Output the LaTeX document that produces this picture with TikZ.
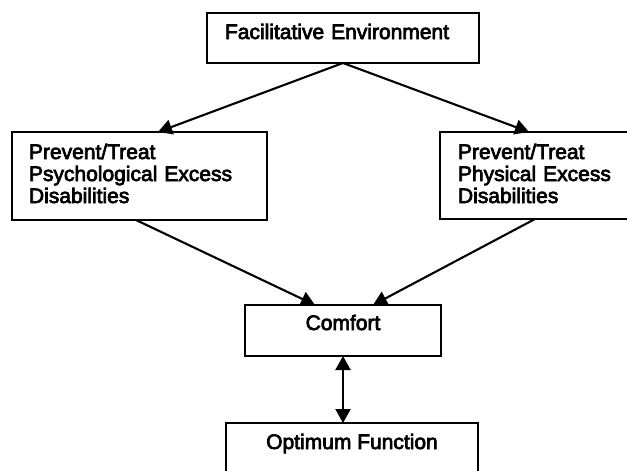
\documentclass[tikz,border=0pt]{standalone}
\usepackage{fontspec}
\setmainfont{Liberation Sans}
\newcommand{\heavytext}[1]{\special{pdf:literal 2 Tr 0.7 w}#1\special{pdf:literal 0 Tr}}
\usetikzlibrary{arrows.meta}
\begin{document}
\begin{tikzpicture}[x=1pt,y=-1pt,line width=2.3pt,
  box/.style={draw, rectangle, anchor=north west, outer sep=0pt,
    font=\fontsize{21}{22}\selectfont, inner ysep=0pt, align=left},
  arr/.style={-{Triangle[length=14pt,width=15pt]}, line width=2.1pt}]
\clip (0,0) rectangle (627,471);
\node[box, text width=236pt, inner xsep=18pt, text height=26pt, text depth=24pt] (env) at (207,13) {\heavytext{Facilitative Environment}};
\node[box, text width=221pt, inner xsep=17pt, text height=27pt, text depth=61pt] (psy) at (12,132) {\heavytext{Prevent/Treat}\\\heavytext{Psychological Excess}\\\heavytext{Disabilities}};
\node[box, text width=164pt, inner xsep=18pt, text height=27pt, text depth=60pt] (phy) at (440,132) {\heavytext{Prevent/Treat}\\\heavytext{Physical Excess}\\\heavytext{Disabilities}};
\node[box, minimum width=196pt, text height=25pt, text depth=26pt] (comfort) at (245,305) {\heavytext{Comfort}};
\node[box, minimum width=252pt, text height=26pt, text depth=40pt] (opt) at (226,423) {\heavytext{Optimum Function}};
\draw[arr] (env.south) -- ([xshift=146pt]psy.north west);
\draw[arr] (env.south) -- ([xshift=89pt]phy.north west);
\draw[arr] ([xshift=124pt]psy.south west) -- ([xshift=70pt]comfort.north west);
\draw[arr] ([xshift=95pt]phy.south west) -- ([xshift=128pt]comfort.north west);
\draw[arr, {Triangle[length=14pt,width=15pt]}-{Triangle[length=14pt,width=15pt]}] (comfort.south) -- (comfort.south |- opt.north);
\end{tikzpicture}
\end{document}
